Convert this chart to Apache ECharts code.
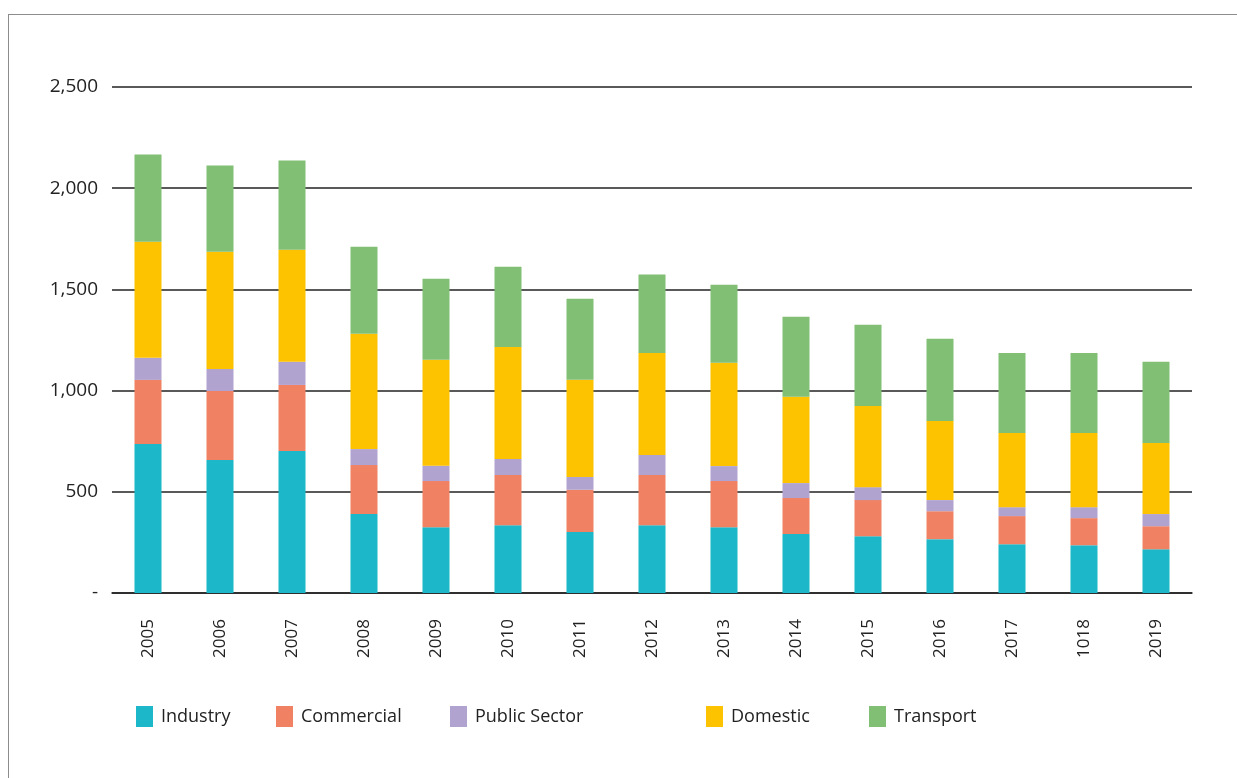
<!DOCTYPE html>
<html>
<head>
<meta charset="utf-8">
<script src="https://cdn.jsdelivr.net/npm/echarts@6/dist/echarts.min.js"></script>
<style>
  html, body { margin: 0; padding: 0; background: #fff; overflow: hidden; }
  #frame {
    position: absolute; left: 8px; top: 14px;
    width: 1400px; height: 900px;
    border: 1.5px solid #8c8c8c;
  }
  #chart { position: absolute; left: 0; top: 0; width: 1237px; height: 778px; }
</style>
</head>
<body>
<div id="frame"></div>
<div id="chart"></div>
<script>
const years = ['2005', '2006', '2007', '2008', '2009', '2010', '2011', '2012', '2013', '2014', '2015', '2016', '2017', '1018', '2019']

const industry     = [736, 657, 701, 390, 325, 335, 302, 335, 325, 291, 281, 266, 241, 236, 216]
const commercial   = [317, 341, 327, 242, 228, 248, 208, 248, 228, 178, 178, 138, 139, 134, 114]
const publicSector = [109, 109, 115,  79,  76,  79,  63,  99,  74,  74,  64,  55,  44,  54,  60]
const domestic     = [574, 579, 553, 570, 523, 554, 480, 504, 510, 426, 401, 391, 366, 366, 351]
const transport    = [431, 426, 441, 430, 401, 396, 401, 387, 386, 396, 401, 406, 396, 396, 401]

const seriesNames = ['Industry', 'Commercial', 'Public Sector', 'Domestic', 'Transport']
const seriesData = [industry, commercial, publicSector, domestic, transport]
const colors = ['#1cb7c8', '#f08263', '#b0a3d0', '#fdc300', '#80bf74']
const legendLeft = [131, 271, 445, 701, 864]

const font = "'Open Sans', 'Noto Sans', sans-serif"

const option = {
  animation: false,
  color: colors,
  grid: {
    left: 112,
    right: 45,
    top: 87,
    bottom: 185
  },
  legend: seriesNames.map((name, i) => ({
    data: [name],
    left: legendLeft[i],
    top: 701,
    icon: 'rect',
    itemWidth: 17,
    itemHeight: 21,
    textStyle: {
      fontFamily: font,
      fontSize: 18,
      color: '#222',
      padding: [0, 0, 0, 3]
    }
  })),
  xAxis: {
    type: 'category',
    data: years,
    axisLine: { show: true, lineStyle: { color: '#222', width: 1.5 } },
    axisTick: { show: false },
    axisLabel: {
      rotate: 90,
      margin: 26,
      fontFamily: font,
      fontSize: 17,
      color: '#222'
    }
  },
  yAxis: {
    type: 'value',
    min: 0,
    max: 2500,
    interval: 500,
    axisLine: { show: false },
    axisTick: { show: false },
    splitLine: { lineStyle: { color: '#222', width: 1.5 } },
    axisLabel: {
      margin: 14,
      fontFamily: font,
      fontSize: 19,
      color: '#222',
      formatter: v => v === 0 ? '-' : v.toLocaleString('en-US')
    }
  },
  series: seriesNames.map((name, i) => ({
    name: name,
    type: 'bar',
    stack: 'total',
    barWidth: 27,
    data: seriesData[i]
  }))
}

const chart = echarts.init(document.getElementById('chart'))
chart.setOption(option)
</script>
</body>
</html>
